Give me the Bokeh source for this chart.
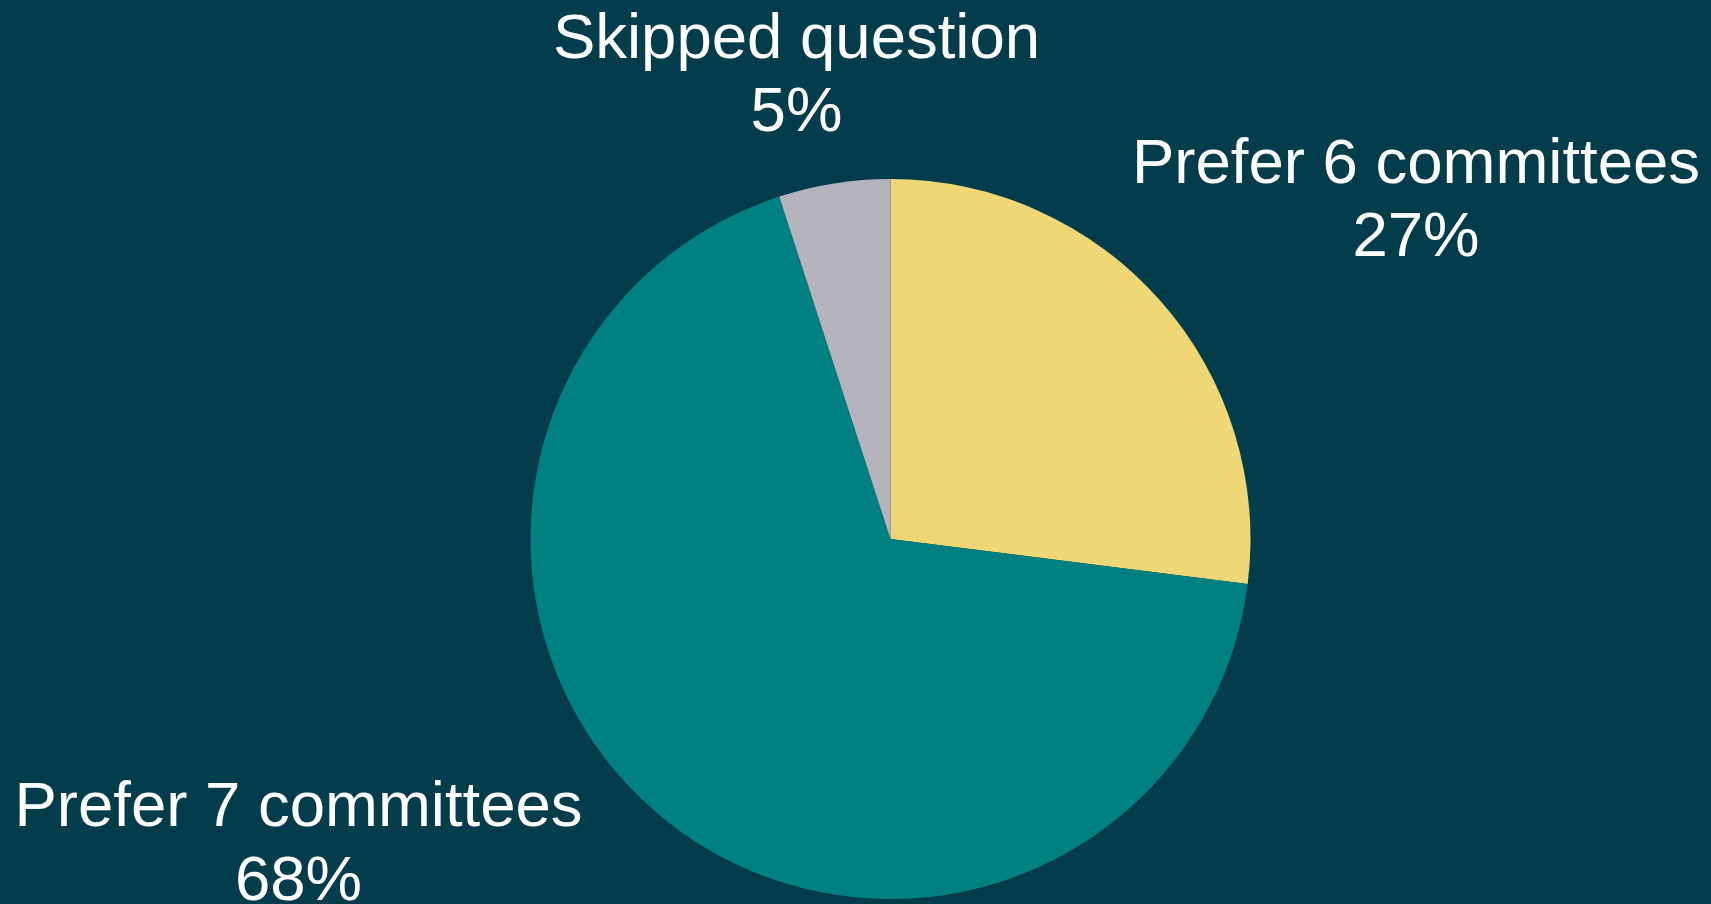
import math
from bokeh.plotting import figure
from bokeh.models import Range1d, ColumnDataSource
from bokeh.core.properties import value
from bokeh.embed import file_html
from bokeh.resources import INLINE

# ---- data ----
categories = ["Prefer 6 committees", "Prefer 7 committees", "Skipped question"]
percents = [27, 68, 5]
colors = ["#EFD775", "#008080", "#B4B3BE"]

BG = "#033C4A"
W, H = 1711, 904

p = figure(width=W, height=H, output_backend="svg", toolbar_location=None,
           x_range=Range1d(0, W), y_range=Range1d(0, H), min_border=0)
p.axis.visible = False
p.grid.visible = False
p.outline_line_color = None
p.background_fill_color = BG
p.border_fill_color = BG

# wedges: start at 12 o'clock, going clockwise
total = sum(percents)
starts, ends = [], []
cum = 0.0
for v in percents:
    a0 = math.pi / 2 - 2 * math.pi * cum / total
    a1 = math.pi / 2 - 2 * math.pi * (cum + v) / total
    starts.append(a1)
    ends.append(a0)
    cum += v

cx, cy, r = 890.0, 365.5, 360
src = ColumnDataSource(dict(cat=categories, start=starts, end=ends, color=colors))
p.wedge(x=cx, y=cy, radius=r, start_angle="start", end_angle="end",
        fill_color="color", line_color=None, source=src)

# labels
FONT = "Liberation Sans, Arial"
SIZE = "63.5px"
DY = 23.0
label_pos = {
    "Prefer 6 committees": (1415.5, 721.0, 648.0),
    "Prefer 7 committees": (298.0, 77.3, 4.0),
    "Skipped question": (796.0, 846.0, 773.0),
}
for cat, pct in zip(categories, percents):
    x, y1, y2 = label_pos[cat]
    p.text(x=[x], y=[y1 + DY], text=[cat], text_align="center", text_baseline="alphabetic",
           text_color="white", text_font=value(FONT), text_font_size=SIZE)
    p.text(x=[x], y=[y2 + DY], text=[f"{pct}%"], text_align="center", text_baseline="alphabetic",
           text_color="white", text_font=value(FONT), text_font_size=SIZE)

html = file_html(p, INLINE)
html = html.replace("</head>", "<style>body{background:%s;}</style></head>" % BG, 1)
open("out.html", "w").write(html)
